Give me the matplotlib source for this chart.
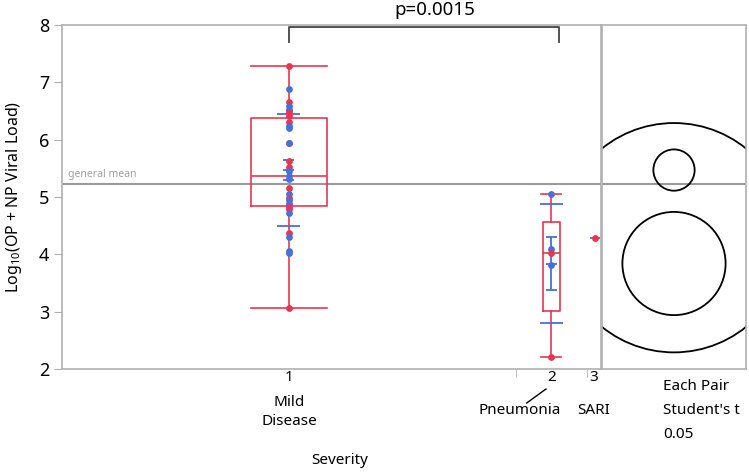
import matplotlib.pyplot as plt
from matplotlib.patches import Circle

plt.rcParams.update({
    "font.family": ["Noto Sans", "DejaVu Sans"],
    "font.size": 11,
})

# ---- data ----
categories = ["1", "2", "3"]
cat_names = ["Mild\nDisease", "Pneumonia", "SARI"]
group_n = [32, 5, 1]

mild = [7.28, 6.88, 6.65, 6.58, 6.52, 6.52, 6.46, 6.42, 6.30, 6.23, 6.20,
        5.94, 5.94, 5.63, 5.52, 5.46, 5.37, 5.31, 5.15, 5.05, 4.99, 4.94,
        4.88, 4.88, 4.82, 4.79, 4.72, 4.37, 4.30, 4.06, 4.02, 3.06]
mild_col = ["r", "b", "r", "b", "r", "b", "r", "r", "r", "b", "b",
            "r", "b", "r", "r", "b", "b", "b", "r", "b", "r", "b",
            "r", "b", "r", "r", "b", "r", "b", "b", "b", "r"]
pneu = [5.05, 4.09, 4.03, 3.81, 2.21]
pneu_col = ["b", "b", "r", "b", "r"]
sari = [4.29]
sari_col = ["r"]

# box stats (q1, median, q3, whisker low, whisker high)
box_q1 = [4.85, 3.02]
box_med = [5.37, 4.02]
box_q3 = [6.37, 4.57]
box_lo = [3.06, 2.21]
box_hi = [7.28, 5.06]

# means, standard errors, standard deviations
means = [5.47, 3.84, 4.29]
se = [0.17, 0.46, 0.0]
sd = [0.98, 1.03, 0.0]

# comparison circle radii
circle_r = [0.36, 0.90, 2.0]

general_mean = 5.23
p_text = "p=0.0015"

RED = "#E8364F"
BLUE = "#4670DC"
GRID = "#B0B0B0"
cmap = {"r": RED, "b": BLUE}

# ---- layout ----
W, H = 749, 474
fig = plt.figure(figsize=(W / 100, H / 100), dpi=100)
ax = fig.add_axes([62 / W, 1 - 369 / H, (601 - 62) / W, (369 - 25) / H])
axc = fig.add_axes([602 / W, 1 - 369 / H, (746 - 602) / W, (369 - 25) / H])

# group centres from group sizes
edges = [0]
for n in group_n:
    edges.append(edges[-1] + n)
centers = [(edges[i] + edges[i + 1]) / 2 for i in range(3)]

ax.set_xlim(0, edges[-1])
ax.set_ylim(2, 8)

ax.axhline(general_mean, color="#999999", lw=1.5, zorder=1)
ax.text(0.4, general_mean + 0.06, "general mean", color="#A0A0A0",
        fontsize=7.5, va="bottom", ha="left")

# boxes
stats = []
for i in range(2):
    stats.append({"med": box_med[i], "q1": box_q1[i], "q3": box_q3[i],
                  "whislo": box_lo[i], "whishi": box_hi[i], "fliers": []})
ax.bxp(stats, positions=centers[:2], widths=[5.3, 1.23], capwidths=[5.3, 1.41],
       showfliers=False, manage_ticks=False,
       boxprops=dict(color=RED, lw=1.2), medianprops=dict(color=RED, lw=1.2),
       whiskerprops=dict(color=RED, lw=1.2), capprops=dict(color=RED, lw=1.2))

# means, SE and SD lines
for i in range(3):
    c = centers[i]
    if sd[i] > 0:
        ax.hlines([means[i] - sd[i], means[i] + sd[i]], c - 0.81, c + 0.81,
                  color=BLUE, lw=1.3, zorder=3)
    if se[i] > 0:
        ax.vlines(c, means[i] - se[i], means[i] + se[i], color=BLUE, lw=1.3, zorder=3)
        ax.hlines([means[i] - se[i], means[i], means[i] + se[i]], c - 0.39, c + 0.39,
                  color=BLUE, lw=1.3, zorder=3)
    else:
        ax.hlines(means[i], c - 0.3, c + 0.45, color=BLUE, lw=1.3, zorder=3)

# points
for c, vals, cols in zip(centers, [mild, pneu, sari], [mild_col, pneu_col, sari_col]):
    for v, k in zip(vals, cols):
        ax.scatter(c + (0.08 if len(vals) == 1 else 0), v, s=24,
                   color=cmap[k], zorder=4, lw=0)

# comparison bracket
bx0, bx1 = centers[0], centers[1] + 0.55
ax.plot([bx0, bx0, bx1, bx1], [7.70, 7.965, 7.965, 7.70], color="#444444",
        lw=1.3, clip_on=False, zorder=5)
fig.text(435 / W, 1 - 10 / H, p_text, ha="center", va="center", fontsize=13.5)

# axes styling
for a in (ax, axc):
    for s in a.spines.values():
        s.set_color(GRID)
        s.set_linewidth(1.2)
ax.set_yticks(range(2, 9))
ax.tick_params(axis="y", length=6, color=GRID, labelsize=13, pad=3)
ax.set_xticks(centers, categories)
ax.tick_params(axis="x", length=0, labelsize=11, pad=1)
ax.set_xticks([edges[1], edges[2]], minor=True)
ax.tick_params(axis="x", which="minor", length=6, color=GRID)

# category names
fig.text(289 / W, 1 - 412 / H, cat_names[0], ha="center", va="center",
         fontsize=11, linespacing=1.35)
fig.text(520 / W, 1 - 411 / H, cat_names[1], ha="center", va="center", fontsize=11)
fig.text(594 / W, 1 - 411 / H, cat_names[2], ha="center", va="center", fontsize=11)
fig.add_artist(plt.Line2D([526.7 / W, 546 / W], [1 - 403 / H, 1 - 389 / H],
                          color="black", lw=1))
fig.text(340 / W, 1 - 461 / H, "Severity", ha="center", va="center", fontsize=11)
fig.text(14 / W, 1 - 197 / H, r"Log$_{\mathregular{10}}$(OP + NP Viral Load)",
         rotation=90, ha="center", va="center", fontsize=11.5)

# comparison circles panel
axc.set_ylim(2, 8)
bb = axc.get_position()
px_w, px_h = bb.width * W, bb.height * H
half = px_w / 2 / (px_h / 6)
axc.set_xlim(-half, half)
axc.set_xticks([])
axc.set_yticks([])
axc.axhline(general_mean, color="#999999", lw=1.5, zorder=1)
for m, r in zip(means, circle_r):
    axc.add_patch(Circle((0, m), r, fill=False, color="black", lw=1.3))

fig.text(663 / W, 1 - 386 / H, "Each Pair", ha="left", va="center", fontsize=11)
fig.text(663 / W, 1 - 410 / H, "Student's t", ha="left", va="center", fontsize=11)
fig.text(663 / W, 1 - 435 / H, "0.05", ha="left", va="center", fontsize=11)

fig.savefig("out.png", dpi=100)
